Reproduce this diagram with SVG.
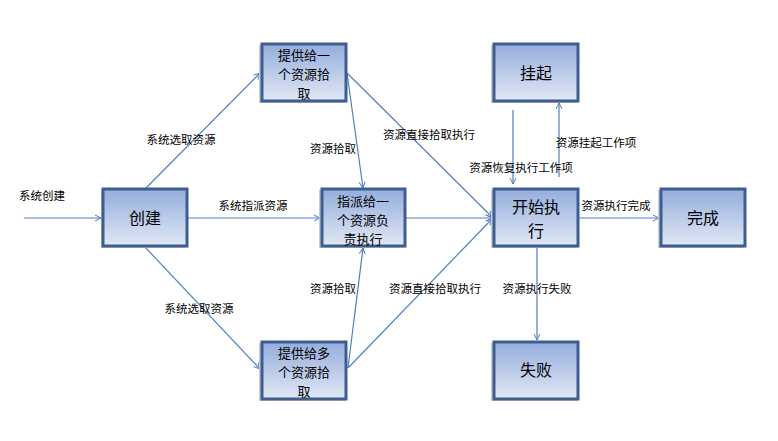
<svg xmlns="http://www.w3.org/2000/svg" width="778" height="441" viewBox="0 0 778 441">
<defs>
<linearGradient id="g" x1="0" y1="0" x2="0" y2="1">
<stop offset="0" stop-color="#94addc"/>
<stop offset="1" stop-color="#e1e8f5"/>
</linearGradient>
<marker id="a" markerWidth="8" markerHeight="8" refX="7" refY="4" orient="auto" markerUnits="userSpaceOnUse">
<path d="M1,1 L7,4 L1,7" fill="none" stroke="#4f81bd" stroke-width="1"/>
</marker>
<style>
.n rect.s{fill:#c8ccd4;stroke:none}
.n rect.b{fill:url(#g);stroke:#3d5e8e;stroke-width:3}
.n text{font-family:"Noto Sans CJK SC","Liberation Sans",sans-serif;fill:#000;text-anchor:middle}
.t16{font-size:16px}
.t13{font-size:13px}
.c line{stroke:#4f81bd;stroke-width:1.2;fill:none;marker-end:url(#a)}
.l text{font-family:"Noto Sans CJK SC","Liberation Sans",sans-serif;font-size:11.5px;fill:#000;text-anchor:middle;dominant-baseline:central}
</style>
</defs>
<rect width="778" height="441" fill="#fff"/>
<g class="c">
<line x1="24" y1="218" x2="101" y2="218"/>
<line x1="145" y1="189" x2="260" y2="73"/>
<line x1="187" y1="218" x2="320" y2="218"/>
<line x1="145" y1="247" x2="260" y2="369"/>
<line x1="347" y1="73" x2="363" y2="188"/>
<line x1="347" y1="73" x2="492" y2="217"/>
<line x1="348" y1="368" x2="363" y2="248"/>
<line x1="348" y1="368" x2="492" y2="219"/>
<line x1="405" y1="218" x2="492" y2="218"/>
<line x1="513" y1="110" x2="513" y2="184"/>
<line x1="559" y1="177" x2="559" y2="103"/>
<line x1="578" y1="218" x2="659" y2="218"/>
<line x1="537" y1="247" x2="537" y2="340"/>
</g>
<g class="l">
<text x="42" y="195">系统创建</text>
<text x="181" y="139">系统选取资源</text>
<text x="333" y="148">资源拾取</text>
<text x="429" y="134">资源直接拾取执行</text>
<text x="253" y="205">系统指派资源</text>
<text x="521" y="167">资源恢复执行工作项</text>
<text x="596" y="142">资源挂起工作项</text>
<text x="616" y="205">资源执行完成</text>
<text x="199" y="308">系统选取资源</text>
<text x="333" y="288">资源拾取</text>
<text x="435" y="288">资源直接拾取执行</text>
<text x="537" y="288">资源执行失败</text>
</g>
<g id="n-create" class="n">
<rect class="s" x="101" y="190" width="86" height="58"/>
<rect class="b" x="103" y="189" width="84" height="57"/>
<text class="t16" x="145" y="224">创建</text>
</g>
<g id="n-offer-one" class="n">
<rect class="s" x="259" y="45" width="86" height="58"/>
<rect class="b" x="262" y="44" width="84" height="57"/>
<text class="t13" x="304" y="59.5"><tspan x="304">提供给一</tspan><tspan x="304" dy="19">个资源拾</tspan><tspan x="304" dy="19">取</tspan></text>
</g>
<g id="n-assign" class="n">
<rect class="s" x="319" y="190" width="86" height="58"/>
<rect class="b" x="322" y="189" width="83" height="57"/>
<text class="t13" x="363" y="206"><tspan x="363">指派给一</tspan><tspan x="363" dy="19">个资源负</tspan><tspan x="363" dy="19">责执行</tspan></text>
</g>
<g id="n-offer-many" class="n">
<rect class="s" x="259" y="343" width="86" height="58"/>
<rect class="b" x="262" y="342" width="84" height="57"/>
<text class="t13" x="304" y="357.5"><tspan x="304">提供给多</tspan><tspan x="304" dy="19">个资源拾</tspan><tspan x="304" dy="19">取</tspan></text>
</g>
<g id="n-suspend" class="n">
<rect class="s" x="491" y="45" width="86" height="58"/>
<rect class="b" x="494" y="44" width="84" height="57"/>
<text class="t16" x="536" y="79">挂起</text>
</g>
<g id="n-start" class="n">
<rect class="s" x="491" y="190" width="86" height="58"/>
<rect class="b" x="494" y="189" width="84" height="57"/>
<text class="t16" x="536" y="213"><tspan x="536">开始执</tspan><tspan x="536" dy="23.5">行</tspan></text>
</g>
<g id="n-done" class="n">
<rect class="s" x="658" y="190" width="86" height="58"/>
<rect class="b" x="661" y="189" width="84" height="57"/>
<text class="t16" x="703" y="224">完成</text>
</g>
<g id="n-fail" class="n">
<rect class="s" x="491" y="343" width="86" height="58"/>
<rect class="b" x="494" y="342" width="84" height="57"/>
<text class="t16" x="536" y="376">失败</text>
</g>
</svg>
